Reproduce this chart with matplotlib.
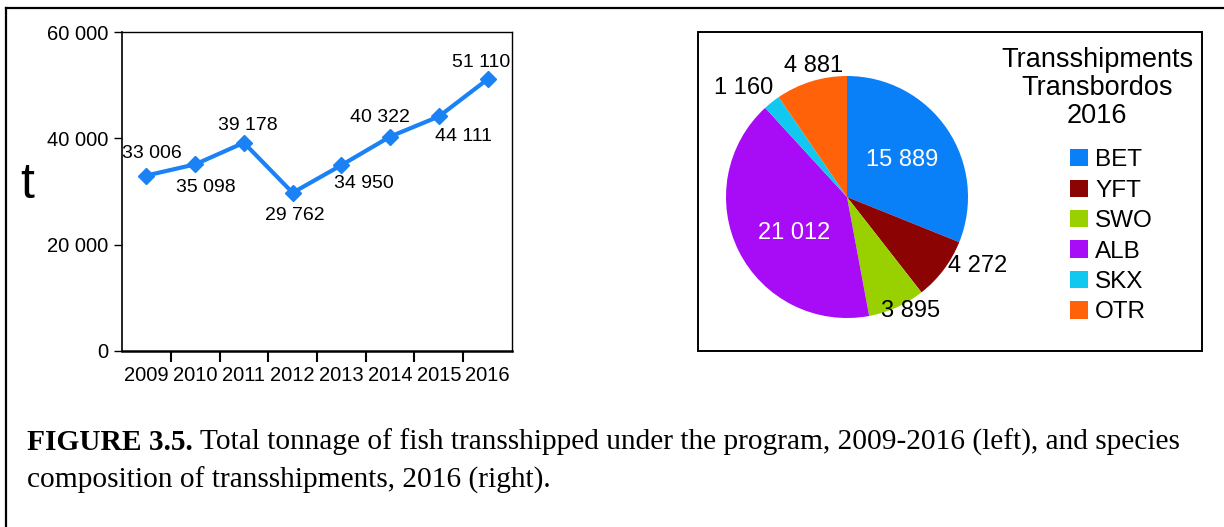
import numpy as np
import matplotlib
matplotlib.use("Agg")
import matplotlib.pyplot as plt
from matplotlib.patches import Patch
from matplotlib.lines import Line2D

plt.rcParams['font.family'] = ['Liberation Sans', 'DejaVu Sans']

# данные: левый график
years = ['2009', '2010', '2011', '2012', '2013', '2014', '2015', '2016']
tonnage = [33006, 35098, 39178, 29762, 34950, 40322, 44111, 51110]
# смещения подписей (пиксели)
lab_dx = [5, 11, 4, 2, 22, -10, 25, -6]
lab_dy = [22, -23, 17, -23, -18, 19, -20, 17]

# данные: круговая диаграмма
species = ['BET', 'YFT', 'SWO', 'ALB', 'SKX', 'OTR']
species_t = [15889, 4272, 3895, 21012, 1160, 4881]
species_col = ['#0a80f8', '#8b0303', '#99d100', '#a80bf5', '#10c8f0', '#ff6208']
pie_lab_r = [0.55, 1.22, 1.08, 0.53, 1.24, 1.12]
pie_lab_da = [0, 9, 5, 8, 5, -3]
pie_lab_col = ['white', 'black', 'black', 'white', 'black', 'black']


def fmt(v):
    return '{:,}'.format(v).replace(',', ' ')


W, H = 1224, 527
fig = plt.figure(figsize=(W / 100, H / 100), dpi=100)

# рамка страницы
fig.add_artist(Line2D([6 / W, 6 / W], [0, 1 - 8 / H], color='k', lw=1.6))
fig.add_artist(Line2D([6 / W, 1], [1 - 8 / H, 1 - 8 / H], color='k', lw=1.6))

# левый график
ax = fig.add_axes([122 / W, 1 - 351 / H, 390 / W, 319 / H])
x = np.arange(len(years))
ax.plot(x, tonnage, color='#1a82f5', lw=3, marker='D', ms=8.5)
for i in range(len(years)):
    ax.annotate(fmt(tonnage[i]), (x[i], tonnage[i]), xytext=(lab_dx[i], lab_dy[i]),
                textcoords='offset pixels', ha='center', va='center', fontsize=14)
ax.set_xlim(-0.5, len(years) - 0.5)
ax.set_ylim(0, 60000)
ax.set_yticks([0, 20000, 40000, 60000])
ax.set_yticklabels([fmt(v) for v in [0, 20000, 40000, 60000]], fontsize=14.5)
ax.set_xticks(x[:-1] + 0.5)
ax.set_xticklabels([])
ax.set_xticks(x, minor=True)
ax.set_xticklabels(years, minor=True, fontsize=14.5)
ax.tick_params(axis='x', which='major', length=8, width=1.5, direction='out')
ax.tick_params(axis='x', which='minor', length=0, pad=11)
ax.tick_params(axis='y', length=6, width=1, pad=4)
for s in ['top', 'right']:
    ax.spines[s].set_linewidth(1.0)
ax.spines['left'].set_linewidth(1.2)
ax.spines['bottom'].set_linewidth(1.8)
ax.set_ylabel('t', rotation=0, fontsize=36, va='center', ha='center')
ax.yaxis.set_label_coords(-0.244, 0.52)

# рамка правого графика
fig.add_artist(plt.Rectangle((698 / W, 1 - 351 / H), 504 / W, 319 / H, fill=False,
                             ec='k', lw=1.4, transform=fig.transFigure))

# круговая диаграмма
ax2 = fig.add_axes([726 / W, 1 - 318 / H, 242 / W, 242 / H])
wedges, _ = ax2.pie(species_t, colors=species_col, startangle=90, counterclock=False,
                    radius=1, wedgeprops=dict(lw=0))
ax2.set_xlim(-1, 1)
ax2.set_ylim(-1, 1)
ax2.set_aspect('equal')
for i, w in enumerate(wedges):
    ang = np.deg2rad((w.theta1 + w.theta2) / 2 + pie_lab_da[i])
    ax2.text(pie_lab_r[i] * np.cos(ang), pie_lab_r[i] * np.sin(ang), fmt(species_t[i]),
             ha='center', va='center', fontsize=17, color=pie_lab_col[i])

fig.text(1097 / W, 1 - 88 / H, 'Transshipments\nTransbordos\n2016', ha='center', va='center',
         fontsize=19.5, linespacing=1.1)
handles = [Patch(fc=c, ec='none') for c in species_col]
fig.legend(handles, species, loc='upper left', bbox_to_anchor=(1058 / W, 1 - 137 / H),
           frameon=False, fontsize=17.5, handlelength=0.72, handleheight=0.72,
           handletextpad=0.3, labelspacing=0.34, borderpad=0)

# подпись рисунка
r = fig.canvas.get_renderer()
t1 = fig.text(27 / W, 1 - 442 / H, 'FIGURE 3.5.', family='Liberation Serif', weight='bold',
              fontsize=21.2, va='center')
bb = t1.get_window_extent(r)
fig.text(bb.x1 / W, 1 - 442 / H,
         ' Total tonnage of fish transshipped under the program, 2009-2016 (left), and species',
         family='Liberation Serif', fontsize=21.2, va='center')
fig.text(27 / W, 1 - 480 / H, 'composition of transshipments, 2016 (right).',
         family='Liberation Serif', fontsize=21.2, va='center')

fig.savefig('out.png', dpi=100)
